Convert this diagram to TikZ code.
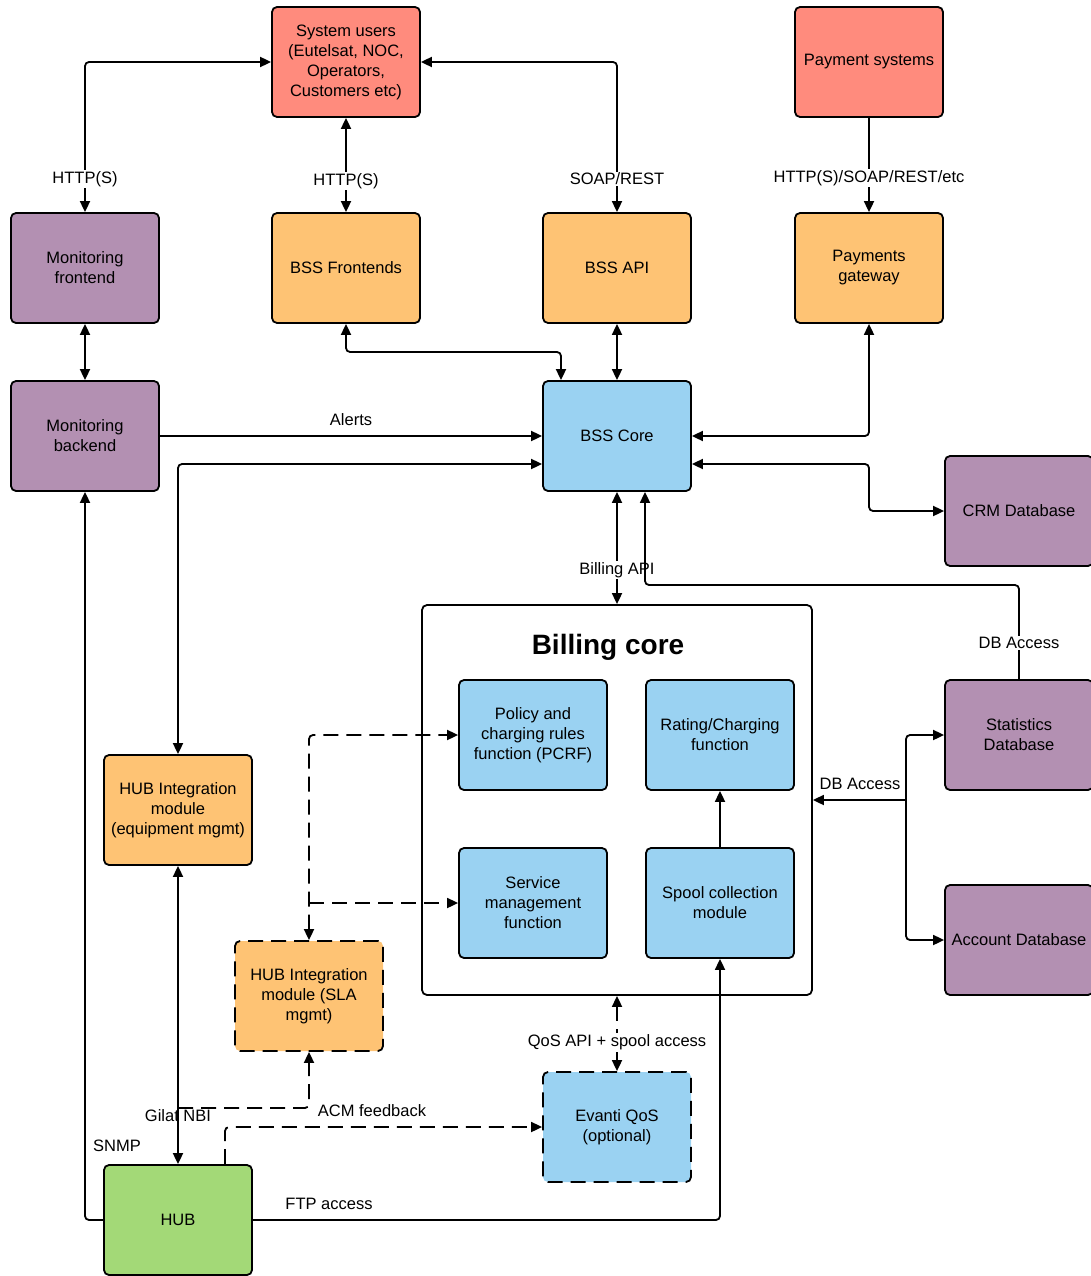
\documentclass[tikz,border=0pt]{standalone}
\usepackage{fontspec}
\setmainfont{Liberation Sans}
\usetikzlibrary{arrows.meta}
\definecolor{cred}{RGB}{255,139,125}
\definecolor{corange}{RGB}{254,195,116}
\definecolor{cpurple}{RGB}{179,144,178}
\definecolor{cblue}{RGB}{154,210,242}
\definecolor{cgreen}{RGB}{163,217,119}
\tikzset{
  box/.style={draw=black, line width=1.8pt, rounded corners=5pt, minimum width=148pt, minimum height=110pt, align=center, font=\fontsize{16.5}{20}\selectfont, inner sep=2pt},
  dashedbox/.style={box, dash pattern=on 15pt off 8pt},
  conn/.style={line width=1.8pt, rounded corners=4pt},
  tip/.tip={Triangle[length=11pt,width=10pt]},
  onearrow/.style={conn, -tip},
  twoarrow/.style={conn, tip-tip},
  dashconn/.style={conn, dash pattern=on 15pt off 8pt},
  lbl/.style={font=\fontsize{16.5}{20}\selectfont, inner sep=1pt},
  wlbl/.style={lbl, fill=white}
}
\begin{document}
\begin{tikzpicture}[x=1pt,y=-1pt]
\useasboundingbox (0,0) rectangle (1090,1276);
% top row
\node[box, fill=cred] (users) at (346,62) {System users\\(Eutelsat, NOC,\\Operators,\\Customers etc)};
\node[box, fill=cred] (pay) at (869,62) {Payment systems};
% second row
\node[box, fill=cpurple] (monf) at (85,268) {Monitoring\\frontend};
\node[box, fill=corange] (bssf) at (346,268) {BSS Frontends};
\node[box, fill=corange] (bssapi) at (617,268) {BSS API};
\node[box, fill=corange] (pgw) at (869,268) {Payments\\gateway};
% third row
\node[box, fill=cpurple] (monb) at (85,436) {Monitoring\\backend};
\node[box, fill=cblue] (core) at (617,436) {BSS Core};
\node[box, fill=cpurple] (crm) at (1019,511) {CRM Database};
% billing core container
\node[draw=black, line width=1.8pt, rounded corners=5pt, fill=white, minimum width=390pt, minimum height=390pt] (bc) at (617,800) {};
\node[font=\fontsize{28}{32}\selectfont\bfseries] (bctitle) at (608,647) {Billing core};
\node[box, fill=cblue] (pcrf) at (533,735) {Policy and\\charging rules\\function (PCRF)};
\node[box, fill=cblue] (rating) at (720,735) {Rating/Charging\\function};
\node[box, fill=cblue] (svc) at (533,903) {Service\\management\\function};
\node[box, fill=cblue] (spool) at (720,903) {Spool collection\\module};
% databases
\node[box, fill=cpurple] (stats) at (1019,735) {Statistics\\Database};
\node[box, fill=cpurple] (accdb) at (1019,940) {Account Database};
% hub side
\node[box, fill=corange] (hubint) at (178,810) {HUB Integration\\module\\(equipment mgmt)};
\node[dashedbox, fill=corange] (sla) at (309,996) {HUB Integration\\module (SLA\\mgmt)};
\node[dashedbox, fill=cblue] (evanti) at (617,1127) {Evanti QoS\\(optional)};
\node[box, fill=cgreen] (hub) at (178,1220) {HUB};

% connectors top
\draw[twoarrow] (monf.north) |- (users.west);
\node[wlbl] (l1) at (85,179) {HTTP(S)};
\draw[twoarrow] (users.south) -- (bssf.north);
\node[wlbl] (l2) at (346,181) {HTTP(S)};
\draw[twoarrow] (bssapi.north) |- (users.east);
\node[wlbl] (l3) at (617,179) {SOAP/REST};
\draw[onearrow] (pay.south) -- (pgw.north);
\node[wlbl] (l4) at (869,178) {HTTP(S)/SOAP/REST/etc};

\draw[twoarrow] (monf.south) -- (monb.north);
\coordinate (fcorner) at (346,352);
\draw[twoarrow] (bssf.south) -- (fcorner) -| ([xshift=-56pt]core.north);
\draw[twoarrow] (bssapi.south) -- (core.north);
\draw[twoarrow] (pgw.south) |- (core.east);
\draw[onearrow] (monb.east) -- (core.west);
\node[lbl] (alerts) at (351,420) {Alerts};
\draw[twoarrow] (hubint.north) |- ([yshift=-28pt]core.west);
\coordinate (crmturn) at (869,464);
\draw[twoarrow] ([yshift=-28pt]core.east) -- (crmturn) |- (crm.west);

% billing API
\draw[twoarrow] (core.south) -- (bc.north);
\node[wlbl] (bapi) at (617,570) {Billing API};
\coordinate (dbturn) at (1019,585);
\draw[onearrow] (stats.north) -- (dbturn) -| ([xshift=28pt]core.south);
\node[wlbl] (dba1) at (1019,643) {DB Access};

% DB access fork
\coordinate (dbj) at (906,800);
\draw[onearrow] (dbj) -- (bc.east |- dbj);
\draw[onearrow] (dbj) |- (stats.west);
\draw[onearrow] (dbj) |- (accdb.west);
\node[lbl] (dba2) at (860,784) {DB Access};

\draw[onearrow] (spool.north) -- (rating.south);

% dashed links to SLA module
\coordinate (slaj) at (sla.north |- svc.west);
\draw[dashconn, tip-tip] (sla.north) |- (pcrf.west);
\draw[dashconn, -tip] (slaj) -- (svc.west);

% QoS
\draw[dashconn, tip-tip] (bc.south) -- (evanti.north);
\node[wlbl] (qos) at (617,1042) {QoS API + spool access};
\draw[dashconn, -tip] ([xshift=47pt]hub.north) |- (evanti.west);

% Gilat NBI and ACM
\draw[twoarrow] (hubint.south) -- (hub.north);
\coordinate (acm) at (178,1108);
\draw[dashconn, -tip] (acm) -| (sla.south);
\node[lbl] (acml) at (372,1111) {ACM feedback};
\node[lbl] (gilat) at (178,1116) {Gilat NBI};

% SNMP and FTP
\draw[onearrow] (hub.west) -| (monb.south);
\node[lbl] (snmp) at (117,1146) {SNMP};
\draw[onearrow] (hub.east) -| (spool.south);
\node[lbl] (ftp) at (329,1204) {FTP access};
\end{tikzpicture}
\end{document}
